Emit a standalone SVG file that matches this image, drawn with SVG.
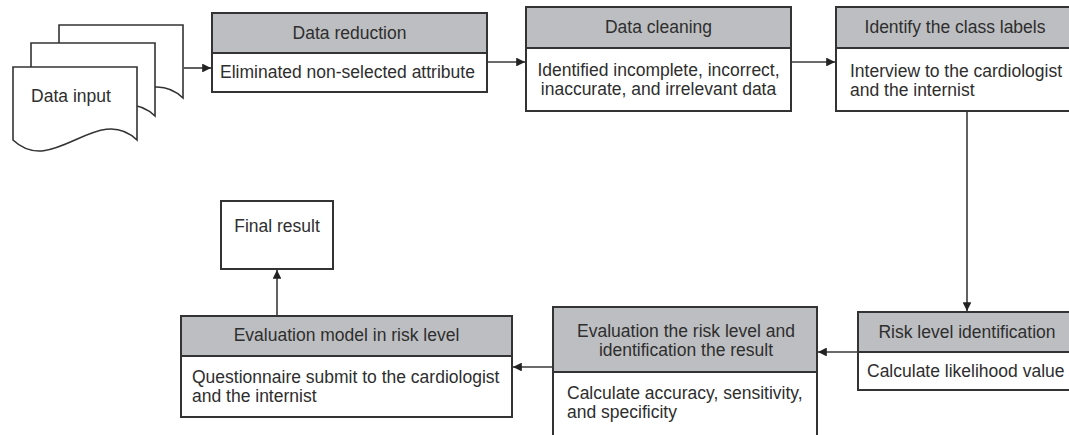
<svg xmlns="http://www.w3.org/2000/svg" xmlns:xlink="http://www.w3.org/1999/xlink" width="1069" height="435" viewBox="0 0 1069 435">
  <style>
    text { font-family: "Liberation Sans", Arial, sans-serif; font-size: 17.5px; fill: #2e2e2e; }
    .mid { text-anchor: middle; }
    .box { fill: #ffffff; stroke: #333333; stroke-width: 2; }
    .head { fill: #bdbec1; stroke: #333333; stroke-width: 2; }
    .sheet { fill: #ffffff; stroke: #333333; stroke-width: 1.6; stroke-linejoin: miter; }
    .conn { fill: none; stroke: #3a3a3a; stroke-width: 1.6; marker-end: url(#arrow); }
  </style>
  <defs>
    <marker id="arrow" viewBox="0 0 10 10" refX="10" refY="5" markerWidth="5.5" markerHeight="5.5" orient="auto" markerUnits="strokeWidth">
      <path d="M0,0 L10,5 L0,10 Z" fill="#222222"/>
    </marker>
    <!-- one page of the stacked document symbol, origin at its top-left corner -->
    <path id="page" class="sheet" d="M0,0 H124 V73 C84,35 40,111 0,73 Z"/>
  </defs>

  <rect width="1069" height="435" fill="#ffffff"/>

  <g id="connectors">
    <line class="conn" x1="184" y1="68" x2="211" y2="68"/>
    <line class="conn" x1="487" y1="62" x2="525" y2="62"/>
    <line class="conn" x1="791" y1="62" x2="835" y2="62"/>
    <line class="conn" x1="967" y1="111" x2="967" y2="311"/>
    <line class="conn" x1="858" y1="352" x2="818" y2="352"/>
    <line class="conn" x1="553" y1="367" x2="513" y2="367"/>
    <line class="conn" x1="277" y1="316" x2="277" y2="270"/>
  </g>

  <g id="data-input">
    <use xlink:href="#page" x="59" y="25"/>
    <use xlink:href="#page" x="31" y="43"/>
    <use xlink:href="#page" x="13" y="67"/>
    <text x="71" y="102" class="mid">Data input</text>
  </g>

  <g id="data-reduction">
    <rect class="head" x="212" y="13" width="275" height="40"/>
    <rect class="box" x="212" y="53" width="275" height="39"/>
    <text x="349.5" y="39" class="mid">Data reduction</text>
    <text x="220" y="78">Eliminated non-selected attribute</text>
  </g>

  <g id="data-cleaning">
    <rect class="head" x="526" y="7" width="265" height="41"/>
    <rect class="box" x="526" y="48" width="265" height="63"/>
    <text x="658.5" y="33" class="mid">Data cleaning</text>
    <text x="658.5" y="76" class="mid">Identified incomplete, incorrect,</text>
    <text x="658.5" y="95" class="mid">inaccurate, and irrelevant data</text>
  </g>

  <g id="class-labels">
    <rect class="head" x="836" y="7" width="240" height="41"/>
    <rect class="box" x="836" y="48" width="240" height="63"/>
    <text x="955" y="33" class="mid">Identify the class labels</text>
    <text x="850" y="77">Interview to the cardiologist</text>
    <text x="850" y="96">and the internist</text>
  </g>

  <g id="risk-level">
    <rect class="head" x="858" y="312" width="218" height="40"/>
    <rect class="box" x="858" y="352" width="218" height="38"/>
    <text x="967" y="338" class="mid">Risk level identification</text>
    <text x="867" y="377">Calculate likelihood value</text>
  </g>

  <g id="evaluation-result">
    <rect class="head" x="553" y="307" width="264" height="65"/>
    <rect class="box" x="553" y="372" width="264" height="80"/>
    <text x="686" y="337" class="mid">Evaluation the risk level and</text>
    <text x="686" y="356" class="mid">identification the result</text>
    <text x="567" y="399">Calculate accuracy, sensitivity,</text>
    <text x="567" y="418">and specificity</text>
  </g>

  <g id="evaluation-model">
    <rect class="head" x="181" y="316" width="331" height="40"/>
    <rect class="box" x="181" y="356" width="331" height="61"/>
    <text x="346.5" y="341" class="mid">Evaluation model in risk level</text>
    <text x="192" y="383">Questionnaire submit to the cardiologist</text>
    <text x="192" y="402">and the internist</text>
  </g>

  <g id="final-result">
    <rect class="box" x="221" y="201" width="112" height="68"/>
    <text x="277" y="232" class="mid">Final result</text>
  </g>
</svg>
